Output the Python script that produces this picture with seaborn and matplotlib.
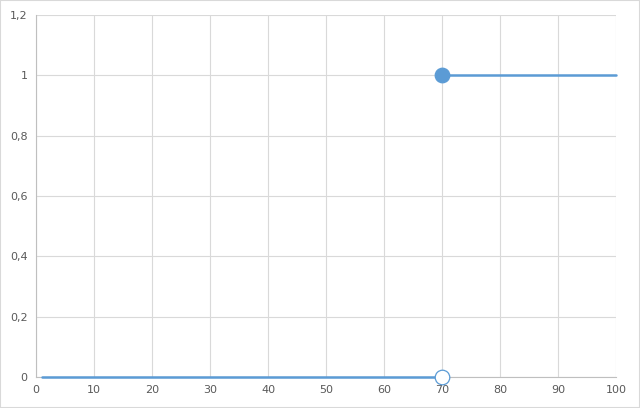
"""Step function chart: 0 below the threshold, 1 from the threshold on."""
import matplotlib
matplotlib.use("Agg")
import matplotlib.pyplot as plt
import pandas as pd
import seaborn as sns

LOW_X = [1, 70]
LOW_Y = [0, 0]
HIGH_X = [70, 100]
HIGH_Y = [1, 1]
OPEN_POINT = ([70], [0])
CLOSED_POINT = ([70], [1])

X_TICKS = [0, 10, 20, 30, 40, 50, 60, 70, 80, 90, 100]
Y_TICKS = [0, 0.2, 0.4, 0.6, 0.8, 1.0, 1.2]
Y_LABELS = ["0", "0,2", "0,4", "0,6", "0,8", "1", "1,2"]

BLUE = "#5B9BD5"
GRID = "#D9D9D9"
TEXT = "#595959"

sns.set_style("white")
plt.rcParams["font.family"] = ["DejaVu Sans"]

fig = plt.figure(figsize=(6.4, 4.08), dpi=100)
ax = fig.add_axes([36 / 640, 1 - 377 / 408, 580 / 640, 362 / 408])

low = pd.DataFrame({"x": LOW_X, "y": LOW_Y})
high = pd.DataFrame({"x": HIGH_X, "y": HIGH_Y})
sns.lineplot(data=low, x="x", y="y", color=BLUE, linewidth=1.8, ax=ax)
sns.lineplot(data=high, x="x", y="y", color=BLUE, linewidth=1.8, ax=ax)
for line in ax.lines:
    line.set_clip_on(False)
    line.set_zorder(4)

sns.scatterplot(x=OPEN_POINT[0], y=OPEN_POINT[1], s=110, color="white",
                edgecolor=BLUE, linewidth=0.9, zorder=5, clip_on=False, ax=ax)
sns.scatterplot(x=CLOSED_POINT[0], y=CLOSED_POINT[1], s=110, color=BLUE,
                edgecolor=BLUE, linewidth=0.9, zorder=5, clip_on=False, ax=ax)

ax.set_xlim(0, 100)
ax.set_ylim(0, 1.2)
ax.set_xticks(X_TICKS)
ax.set_xticklabels([str(t) for t in X_TICKS])
ax.set_yticks(Y_TICKS)
ax.set_yticklabels(Y_LABELS)
ax.set_xlabel("")
ax.set_ylabel("")

ax.grid(True, color=GRID, linewidth=0.8)
ax.set_axisbelow(True)
for side in ["top", "right"]:
    ax.spines[side].set_visible(False)
for side in ["left", "bottom"]:
    ax.spines[side].set_color("#BFBFBF")
    ax.spines[side].set_linewidth(0.8)
ax.tick_params(axis="both", length=0, colors=TEXT, labelsize=8, pad=6)

fig.patches.append(plt.Rectangle((0, 0), 1, 1, transform=fig.transFigure,
                                 fill=False, edgecolor="#D9D9D9", linewidth=1.5))

fig.savefig("out.png", dpi=100)
plt.close(fig)
